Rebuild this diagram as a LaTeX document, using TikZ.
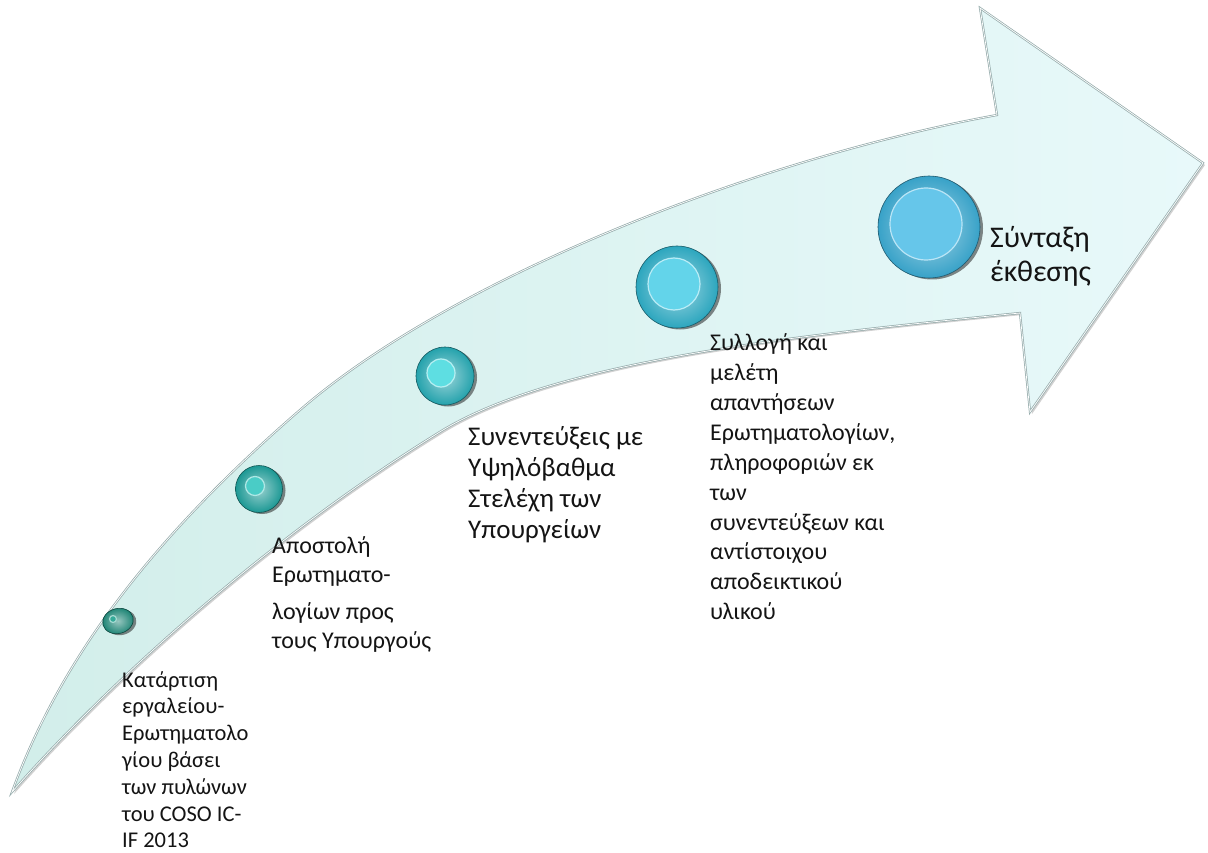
\documentclass[tikz,border=0pt]{standalone}
\usepackage{fontspec}
\setmainfont{Carlito}
\usetikzlibrary{shadows,shapes.geometric}
\definecolor{bandL}{RGB}{210,238,234}
\definecolor{bandR}{RGB}{232,249,250}
\definecolor{edgeC}{RGB}{150,172,172}
\definecolor{txt}{RGB}{20,20,20}
\definecolor{bA}{RGB}{22,128,112}
\definecolor{bAi}{RGB}{52,170,152}
\definecolor{bB}{RGB}{28,152,148}
\definecolor{bBi}{RGB}{74,204,198}
\definecolor{bC}{RGB}{36,162,172}
\definecolor{bCi}{RGB}{94,222,226}
\definecolor{bD}{RGB}{44,166,190}
\definecolor{bDi}{RGB}{99,212,234}
\definecolor{bE}{RGB}{56,162,200}
\definecolor{bEi}{RGB}{102,198,234}
\tikzset{
  bead/.style={draw=#1!55!black, line width=0.6pt, inner color=#1!45!white, outer color=#1,
    drop shadow={shadow xshift=3pt, shadow yshift=-1.5pt, opacity=.55, fill=black!85}},
  disk/.style={circle, fill=#1, draw=white!55!#1, line width=1.2pt, inner sep=0pt},
  lbl/.style={anchor=base west, inner sep=0pt, text=txt},
}
\begin{document}
\begin{tikzpicture}[x=1pt,y=-1pt]
\useasboundingbox (0,0) rectangle (1208,853);
% arrow shadow
\path[fill=black, opacity=.18, xshift=2pt, yshift=-2pt]
  (12,792) .. controls (60,660) and (150,540) .. (300,410)
  .. controls (450,280) and (750,160) .. (997,115)
  -- (980,8) -- (1203,163) -- (1030,412) -- (1020,313)
  .. controls (800,335) and (560,360) .. (443,430)
  .. controls (280,530) and (120,670) .. (12,792) -- cycle;
% arrow body
\path[left color=bandL, right color=bandR, draw=edgeC, line width=2.2pt, line join=miter]
  (12,792) .. controls (60,660) and (150,540) .. (300,410)
  .. controls (450,280) and (750,160) .. (997,115)
  -- (980,8) -- (1203,163) -- (1030,412) -- (1020,313)
  .. controls (800,335) and (560,360) .. (443,430)
  .. controls (280,530) and (120,670) .. (12,792) -- cycle;
\draw[white, line width=0.7pt, line join=miter]
  (12,792) .. controls (60,660) and (150,540) .. (300,410)
  .. controls (450,280) and (750,160) .. (997,115)
  -- (980,8) -- (1203,163) -- (1030,412) -- (1020,313)
  .. controls (800,335) and (560,360) .. (443,430)
  .. controls (280,530) and (120,670) .. (12,792) -- cycle;
% beads
\node[bead=bA, ellipse, minimum width=31pt, minimum height=25pt, rotate=15] (b1) at (118,621) {};
\node[disk=bAi, minimum size=7pt] (b1i) at (113,619) {};
\node[bead=bB, circle, minimum size=47pt] (b2) at (259,489) {};
\node[disk=bBi, minimum size=19pt] (b2i) at (255,486) {};
\node[bead=bC, circle, minimum size=58pt] (b3) at (445,376) {};
\node[disk=bCi, minimum size=28pt] (b3i) at (441,373) {};
\node[bead=bD, circle, minimum size=82pt] (b4) at (677,287) {};
\node[disk=bDi, minimum size=52pt] (b4i) at (674,284) {};
\node[bead=bE, circle, minimum size=102pt] (b5) at (929,227) {};
\node[disk=bEi, minimum size=72pt] (b5i) at (926,224) {};
% labels
\node[lbl, font=\fontsize{22.5}{26.8}\selectfont] (t1) at (122,687)
  {\begin{tabular}[t]{@{}l@{}}Κατάρτιση\\εργαλείου-\\Ερωτηματολο\\γίου βάσει\\των πυλώνων\\του COSO IC-\\IF 2013\end{tabular}};
\node[lbl, font=\fontsize{24}{29.5}\selectfont] (t2) at (272,553)
  {\begin{tabular}[t]{@{}l@{}}Αποστολή\\Ερωτηματο-\\[7pt]λογίων προς\\τους Υπουργούς\end{tabular}};
\node[lbl, font=\fontsize{27}{31}\selectfont] (t3) at (468,445)
  {\begin{tabular}[t]{@{}l@{}}Συνεντεύξεις με\\Υψηλόβαθμα\\Στελέχη των\\Υπουργείων\end{tabular}};
\node[lbl, font=\fontsize{24}{30}\selectfont] (t4) at (710,350)
  {\begin{tabular}[t]{@{}l@{}}Συλλογή και\\μελέτη\\απαντήσεων\\Ερωτηματολογίων,\\πληροφοριών εκ\\των\\συνεντεύξεων και\\αντίστοιχου\\αποδεικτικού\\υλικού\end{tabular}};
\node[lbl, font=\fontsize{30}{34}\selectfont] (t5) at (990,248)
  {\begin{tabular}[t]{@{}l@{}}Σύνταξη\\έκθεσης\end{tabular}};
\end{tikzpicture}
\end{document}
